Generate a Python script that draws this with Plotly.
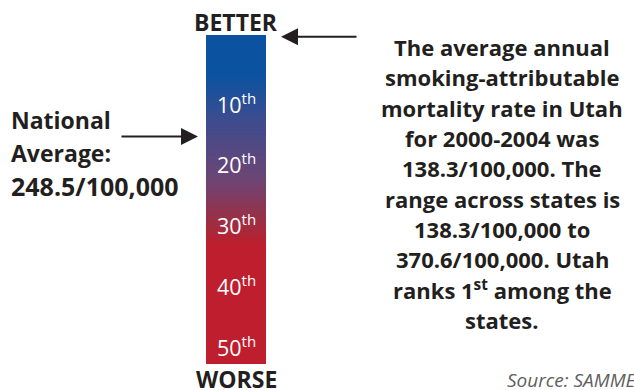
import numpy as np
import plotly.graph_objects as go

W, H = 634, 390

# scale (rank position along the bar)
bar_top_rank = -1.15
bar_bottom_rank = 52.8
tick_ranks = [10, 20, 30, 40, 50]
tick_labels = ["10<sup>th</sup>", "20<sup>th</sup>", "30<sup>th</sup>", "40<sup>th</sup>", "50<sup>th</sup>"]

# colour stops along the bar (rank -> colour)
grad_ranks = [5.4, 12.8, 22.6, 30.8, 33.3]
grad_colors = ["#0b52a1", "#3d4c8e", "#6d4574", "#a52a3b", "#be1e2d"]

national_avg_rank = 15.5
utah_rank = 1

info_lines = [
    "The average annual",
    "smoking-attributable",
    "mortality rate in Utah",
    "for 2000-2004 was",
    "138.3/100,000. The",
    "range across states is",
    "138.3/100,000 to",
    "370.6/100,000. Utah",
    "ranks 1<sup>st</sup> among the",
    "states.",
]
national_lines = ["National", "Average:", "248.5/100,000"]

# ---- gradient bar as heatmap ----
span = bar_bottom_rank - bar_top_rank
cs = [[0.0, grad_colors[0]]]
for r, c in zip(grad_ranks, grad_colors):
    cs.append([(r - bar_top_rank) / span, c])
cs.append([1.0, grad_colors[-1]])

ys = np.linspace(bar_top_rank, bar_bottom_rank, 331)
zc = (ys[:-1] + ys[1:]) / 2
fig = go.Figure(go.Heatmap(
    x=[0, 1], y=ys, z=[[v] for v in zc],
    colorscale=cs, zmin=bar_top_rank, zmax=bar_bottom_rank,
    showscale=False, hoverinfo="skip",
))

bar_x0, bar_x1 = 206, 266
fig.update_layout(
    width=W, height=H,
    margin=dict(l=0, r=0, t=0, b=0),
    paper_bgcolor="white", plot_bgcolor="white",
    xaxis=dict(domain=[bar_x0 / W, bar_x1 / W], range=[0, 1], visible=False, fixedrange=True),
    yaxis=dict(domain=[1 - 364 / H, 1 - 35 / H], range=[bar_bottom_rank, bar_top_rank],
               visible=False, fixedrange=True),
    showlegend=False,
    font=dict(family="Open Sans", color="#231f20"),
)

ann = []
# tick labels inside bar
for r, t in zip(tick_ranks, tick_labels):
    ann.append(dict(x=0.5, y=r, xref="x", yref="y", text=t, showarrow=False,
                    font=dict(size=21.5, color="white", family="Open Sans"),
                    xanchor="center", yanchor="middle"))

bold = dict(family="Open Sans", size=22, color="#231f20", weight="bold")
ann.append(dict(x=236 / W, y=1 - 22 / H, xref="paper", yref="paper", text="BETTER",
                showarrow=False, font=dict(bold, size=23), xanchor="center", yanchor="middle"))
ann.append(dict(x=236 / W, y=1 - 379 / H, xref="paper", yref="paper", text="WORSE",
                showarrow=False, font=dict(bold, size=23), xanchor="center", yanchor="middle"))

# right-hand text
for i, line in enumerate(info_lines):
    yp = 47 + i * 30.3
    ann.append(dict(x=502 / W, y=1 - yp / H, xref="paper", yref="paper", text=line,
                    showarrow=False, font=bold, xanchor="center", yanchor="middle"))

# left text
for i, line in enumerate(national_lines):
    yp = 120 + i * 33
    size = 25 if i == 2 else 23
    ann.append(dict(x=9 / W, y=1 - yp / H, xref="paper", yref="paper", text=line,
                    showarrow=False, font=dict(bold, size=size), xanchor="left", yanchor="middle"))

# arrows
ann.append(dict(x=198 / W, y=national_avg_rank, xref="paper", yref="y", ax=-78, ay=0,
                axref="pixel", ayref="pixel", text="", showarrow=True, arrowhead=2,
                arrowsize=1.7, arrowwidth=2, arrowcolor="#231f20"))
ann.append(dict(x=281 / W, y=bar_top_rank + 0.3, xref="paper", yref="y", ax=77, ay=0,
                axref="pixel", ayref="pixel", text="", showarrow=True, arrowhead=2,
                arrowsize=1.7, arrowwidth=2, arrowcolor="#231f20"))

# source
ann.append(dict(x=505 / W, y=1 - 380 / H, xref="paper", yref="paper", text="Source: SAMMEC",
                showarrow=False,
                font=dict(family="Open Sans", size=19, color="#606060", style="italic"),
                xanchor="left", yanchor="middle"))

fig.update_layout(annotations=ann)
fig.write_html("out.html", post_script="document.body.style.margin='0px';",
               config={"displayModeBar": False})
